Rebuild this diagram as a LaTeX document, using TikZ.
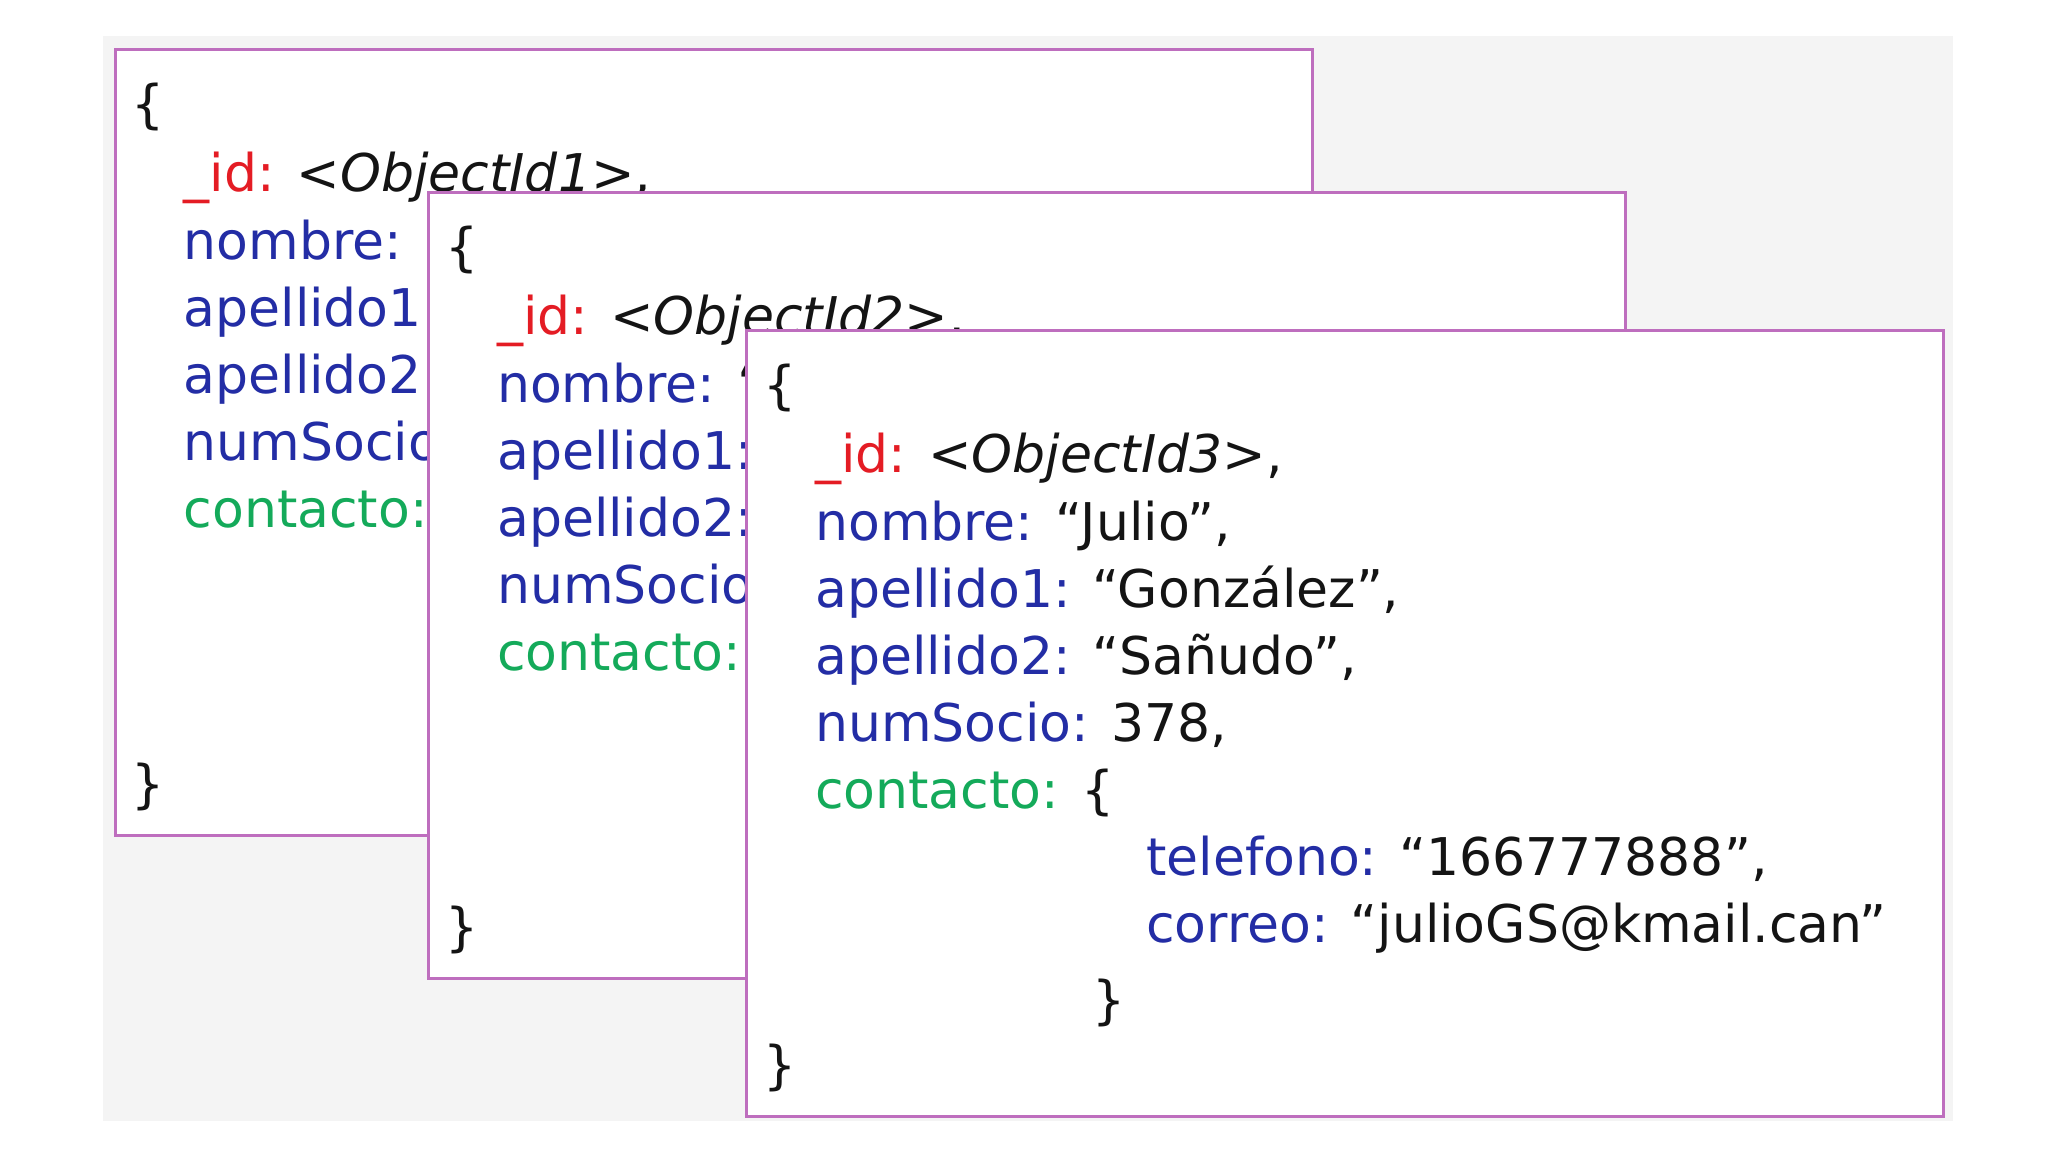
\documentclass[tikz,border=0pt]{standalone}
\usepackage{fontspec}
\setmainfont{DejaVu Sans}
\definecolor{keyred}{RGB}{228,28,36}
\definecolor{keyblue}{RGB}{35,45,165}
\definecolor{keygreen}{RGB}{20,170,90}
\definecolor{valblack}{RGB}{20,20,20}
\definecolor{boxpurple}{RGB}{190,110,190}
\definecolor{bggray}{RGB}{244,244,244}
\tikzset{
  docbox/.style={draw=boxpurple, line width=3pt, fill=white, inner sep=0pt,
    minimum width=1197pt, minimum height=786pt, anchor=north west},
  txt/.style={anchor=base west, inner sep=0pt, text=valblack,
    font=\fontsize{52}{62}\selectfont},
}
\newcommand{\kr}[1]{\textcolor{keyred}{#1}}
\newcommand{\kb}[1]{\textcolor{keyblue}{#1}}
\newcommand{\kg}[1]{\textcolor{keygreen}{#1}}
\begin{document}
\begin{tikzpicture}[x=1pt,y=-1pt]
\useasboundingbox (0,0) rectangle (2048,1152);
\fill[white] (0,0) rectangle (2048,1152);
\fill[bggray] (103,36) rectangle (1953,1121);

% document 1
\begin{scope}[shift={(113.5,48)}]
\node[docbox] (box1) at (0,0) {};
\node[txt] (b1open) at (18,74) {\{};
\node[txt] (b1id) at (70,143) {\kr{\_id:} \textit{<ObjectId1>},};
\node[txt] (b1nom) at (70,211) {\kb{nombre:} “};
\node[txt] (b1ap1) at (70,278) {\kb{apellido1:}};
\node[txt] (b1ap2) at (70,345) {\kb{apellido2:}};
\node[txt] (b1num) at (70,412) {\kb{numSocio:}};
\node[txt] (b1con) at (70,479) {\kg{contacto:}};
\node[txt] (b1close) at (18,754) {\}};
\end{scope}

% document 2
\begin{scope}[shift={(427,191)}]
\node[docbox] (box2) at (0,0) {};
\node[txt] (b2open) at (18,74) {\{};
\node[txt] (b2id) at (70,143) {\kr{\_id:} \textit{<ObjectId2>},};
\node[txt] (b2nom) at (70,211) {\kb{nombre:} “};
\node[txt] (b2ap1) at (70,278) {\kb{apellido1:}};
\node[txt] (b2ap2) at (70,345) {\kb{apellido2:}};
\node[txt] (b2num) at (70,412) {\kb{numSocio:}};
\node[txt] (b2con) at (70,479) {\kg{contacto:}};
\node[txt] (b2close) at (18,754) {\}};
\end{scope}

% document 3
\begin{scope}[shift={(745,329)}]
\node[docbox] (box3) at (0,0) {};
\node[txt] (b3open) at (18,74) {\{};
\node[txt] (b3id) at (70,143) {\kr{\_id:} \textit{<ObjectId3>},};
\node[txt] (b3nom) at (70,211) {\kb{nombre:} “Julio”,};
\node[txt] (b3ap1) at (70,278) {\kb{apellido1:} “González”,};
\node[txt] (b3ap2) at (70,345) {\kb{apellido2:} “Sañudo”,};
\node[txt] (b3num) at (70,412) {\kb{numSocio:} 378,};
\node[txt] (b3con) at (70,479) {\kg{contacto:} \{};
\node[txt] (b3tel) at (401,546) {\kb{telefono:} “166777888”,};
\node[txt] (b3cor) at (401,613) {\kb{correo:} “julioGS@kmail.can”};
\node[txt] (b3inclose) at (347,689) {\}};
\node[txt] (b3close) at (18,754) {\}};
\end{scope}
\end{tikzpicture}
\end{document}
